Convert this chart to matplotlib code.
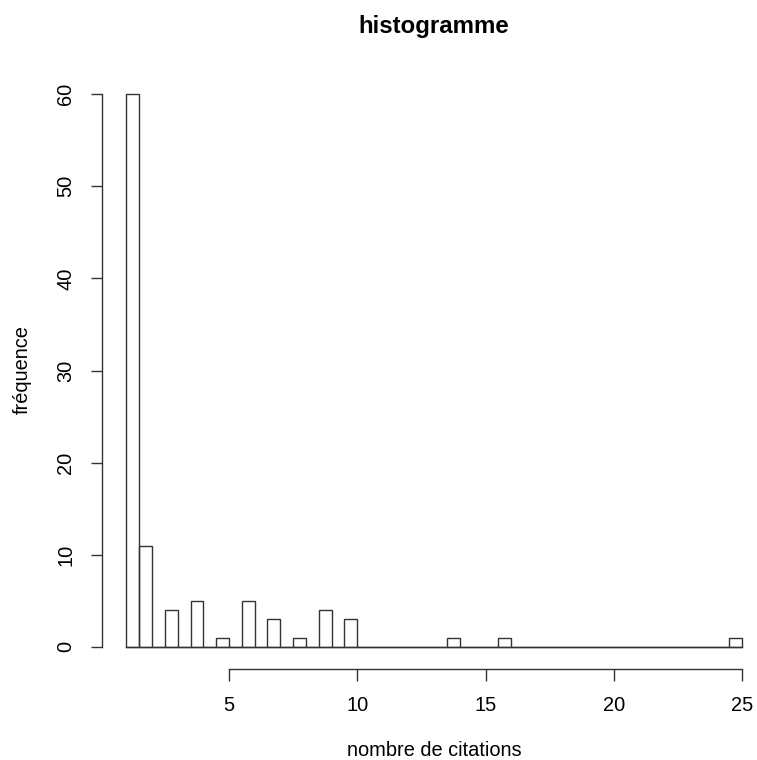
import numpy as np
import pandas as pd
import matplotlib
matplotlib.use("Agg")
import matplotlib.pyplot as plt

plt.rcParams['font.family'] = ['Liberation Sans', 'DejaVu Sans']

# ============================================================
# Data: number of citations and how often each occurs
# ============================================================
citations = [1, 2, 3, 4, 5, 6, 7, 8, 9, 10, 14, 16, 25]
frequence = [60, 11, 4, 5, 1, 5, 3, 1, 4, 3, 1, 1, 1]
x_ticks = [5, 10, 15, 20, 25]
y_ticks = [0, 10, 20, 30, 40, 50, 60]

values = np.repeat(citations, frequence)
breaks = np.arange(1, 25.5, 0.5)

# R-style hist: right-closed bins, lowest included
binned = pd.cut(pd.Series(values), breaks, right=True, include_lowest=True)
counts = binned.value_counts(sort=False).sort_index().values

LINE_COLOR = '#333333'
W, H = 757, 760

fig = plt.figure(figsize=(W / 100, H / 100), dpi=100)
fig.patch.set_facecolor('white')

# plot region, R-like (4% extension on both axes)
xr = breaks[-1] - breaks[0]
yr = max(y_ticks) - min(y_ticks)
xlim = (breaks[0] - 0.04 * xr, breaks[-1] + 0.04 * xr)
ylim = (-0.04 * yr, max(y_ticks) + 0.04 * yr)

left_px, top_px, bottom_px = 101.8, 72, 669
px_per_unit = (742 - 229) / 20
right_px = left_px + (xlim[1] - xlim[0]) * px_per_unit
ax = fig.add_axes([left_px / W, (H - bottom_px) / H, (right_px - left_px) / W, (bottom_px - top_px) / H])

ax.bar(breaks[:-1], counts, width=np.diff(breaks), align='edge', fill=False,
       edgecolor=LINE_COLOR, linewidth=1.0)
ax.plot([breaks[0], breaks[-1]], [0, 0], color=LINE_COLOR, linewidth=1.0)

ax.set_xlim(*xlim)
ax.set_ylim(*ylim)

for side in ['top', 'right']:
    ax.spines[side].set_visible(False)
ax.spines['left'].set_bounds(min(y_ticks), max(y_ticks))
ax.spines['bottom'].set_bounds(min(x_ticks), max(x_ticks))
for side in ['left', 'bottom']:
    ax.spines[side].set_color(LINE_COLOR)
    ax.spines[side].set_linewidth(1.0)

ax.set_xticks(x_ticks)
ax.set_yticks(y_ticks)
ax.set_yticklabels([str(v) for v in y_ticks], rotation=90, va='center')
ax.tick_params(axis='x', length=8.5, width=1.0, color=LINE_COLOR, pad=11, labelsize=14.4)
ax.tick_params(axis='y', length=8, width=1.0, color=LINE_COLOR, pad=11, labelsize=14.4)

fig.text(434 / W, 1 - 750 / H, 'nombre de citations', ha='center', va='center', fontsize=14.4)
fig.text(22 / W, 1 - 370 / H, 'fréquence', ha='center', va='center', rotation=90, fontsize=14.4)
fig.text(434 / W, 1 - 26 / H, 'histogramme', ha='center', va='center', fontsize=17.3, fontweight='bold')

plt.savefig('out.png', dpi=100, facecolor=fig.get_facecolor())
